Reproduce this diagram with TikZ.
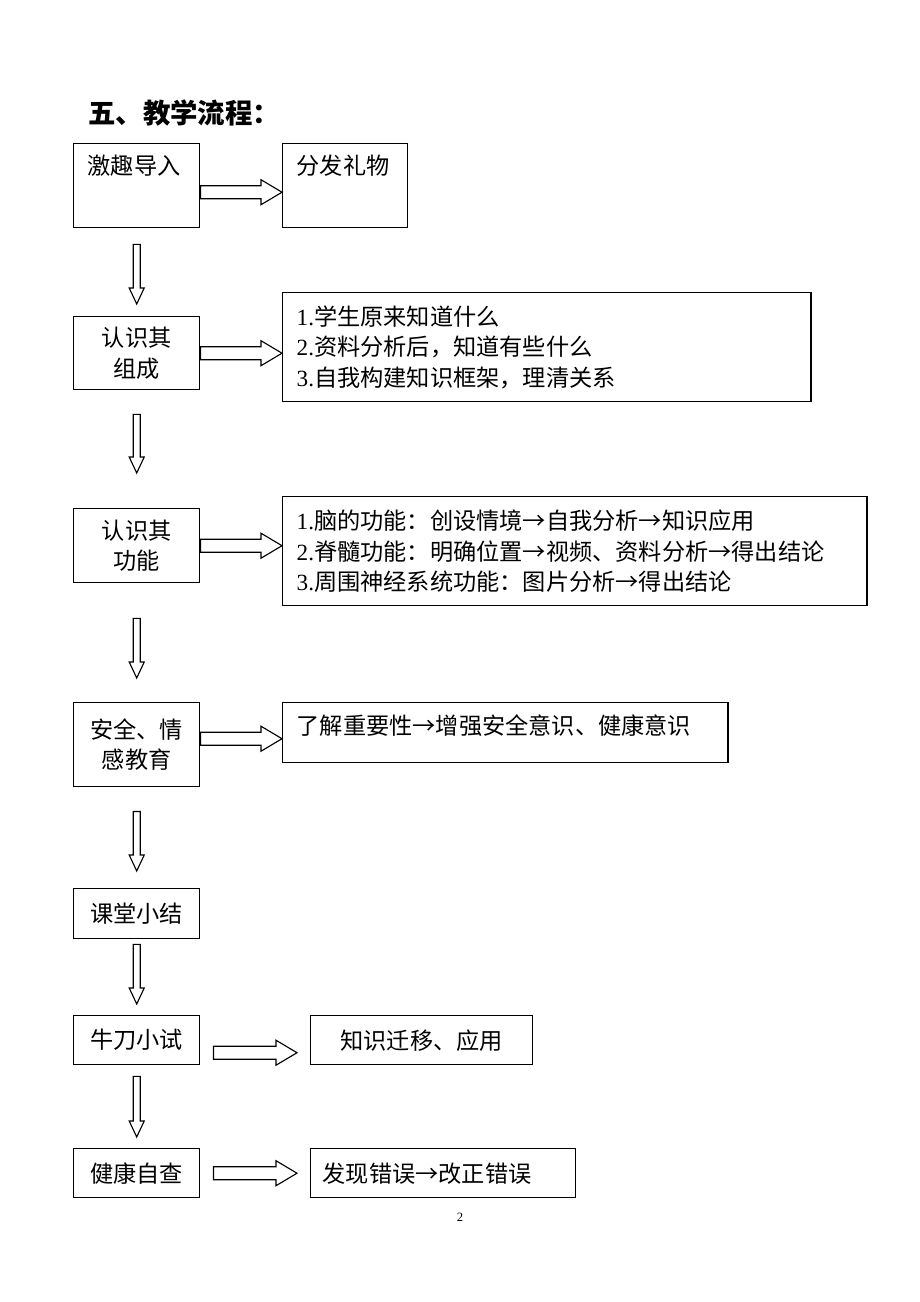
\documentclass[tikz,border=0pt]{standalone}
\usepackage{fontspec}
\setmainfont{Liberation Serif}
\newfontfamily\cjk{Noto Sans CJK SC}
\usetikzlibrary{calc}
\newcommand{\xh}[1]{{\rmfamily #1}}
\newcommand{\ra}{\makebox[1em]{→}}
% hollow block arrows, start and end given as coordinates
\newcommand{\harrow}[2]{%
  \path #1 coordinate (s) #2 coordinate (e);
  \draw[hollow] ($(s)+(0,-6.5)$) -- ($(e)+(-21,-6.5)$) -- ($(e)+(-21,-12.5)$) -- (e) -- ($(e)+(-21,12.5)$) -- ($(e)+(-21,6.5)$) -- ($(s)+(0,6.5)$) -- cycle;}
\newcommand{\varrow}[2]{%
  \path #1 coordinate (s) #2 coordinate (e);
  \draw[hollow] ($(s)+(-3.5,0)$) -- ($(e)+(-3.5,-16)$) -- ($(e)+(-7.5,-16)$) -- (e) -- ($(e)+(7.5,-16)$) -- ($(e)+(3.5,-16)$) -- ($(s)+(3.5,0)$) -- cycle;}
\tikzset{
  flowbox/.style={draw, line width=1pt, anchor=north west, inner sep=0pt, align=center, font={\cjk\fontsize{16.5pt}{21.7pt}\selectfont}},
  listbox/.style={flowbox, align=left, inner xsep=0.35cm},
  hollow/.style={draw, line width=0.8pt, fill=white, line join=miter},
}

\begin{document}
\begin{tikzpicture}[x=0.025cm, y=-0.025cm]
\fill[white] (0,0) rectangle (920,1302);
\useasboundingbox (0,0) rectangle (920,1302);
\node[anchor=west, inner sep=0pt, font={\cjk\bfseries\fontsize{19.5pt}{22pt}\selectfont}] (title) at (88,113) {五、教学流程：};

\node[listbox, text width=2.45cm, text height=0.7625cm, text depth=1.3375cm] (ji) at (73,143) {激趣导入};
\node[listbox, text width=2.425cm, text height=0.7625cm, text depth=1.3375cm] (fa) at (282,143) {分发礼物};
\node[flowbox, minimum width=3.15cm, minimum height=1.825cm] (ren) at (73,316) {认识其\\组成};
\node[listbox, text width=12.5cm, minimum height=2.725cm] (list1) at (282,292) {\xh{1.}学生原来知道什么\\\xh{2.}资料分析后，知道有些什么\\\xh{3.}自我构建知识框架，理清关系};
\node[flowbox, minimum width=3.15cm, minimum height=1.85cm] (gong) at (73,508) {认识其\\功能};
\node[listbox, text width=13.9cm, minimum height=2.725cm] (list2) at (282,496) {\xh{1.}脑的功能：创设情境\ra 自我分析\ra 知识应用\\\xh{2.}脊髓功能：明确位置\ra 视频、资料分析\ra 得出结论\\\xh{3.}周围神经系统功能：图片分析\ra 得出结论};
\node[flowbox, minimum width=3.15cm, minimum height=2.1cm] (an) at (73,702) {安全、情\\感教育};
\node[listbox, text width=10.425cm, text height=0.7875cm, text depth=0.7125cm] (liao) at (282,702) {了解重要性\ra 增强安全意识、健康意识};
\node[flowbox, minimum width=3.15cm, minimum height=1.25cm] (ke) at (73,888) {课堂小结};
\node[flowbox, minimum width=3.15cm, minimum height=1.225cm] (niu) at (73,1015) {牛刀小试};
\node[flowbox, minimum width=5.55cm, minimum height=1.225cm] (zhi) at (310,1015) {知识迁移、应用};
\node[flowbox, minimum width=3.15cm, minimum height=1.225cm] (jian) at (73,1148) {健康自查};
\node[listbox, inner xsep=0.3cm, text width=6.025cm, minimum height=1.225cm] (cuo) at (310,1148) {发现错误\ra 改正错误};

\harrow{($(ji.east)+(0,6.5)$)}{($(ji.east -| fa.west)+(0,6.5)$)}
\harrow{(ren.east)}{(ren.east -| list1.west)}
\harrow{(gong.east)}{(gong.east -| list2.west)}
\harrow{($(an.east)+(0,-6)$)}{($(an.east -| liao.west)+(0,-6)$)}
\harrow{($(niu.east)+(13,12.5)$)}{($(niu.east -| zhi.west)+(-13,12.5)$)}
\harrow{($(jian.east)+(13,0)$)}{($(jian.east -| cuo.west)+(-13,0)$)}

\varrow{($(ji.south)+(0,16)$)}{($(ren.north)+(0,-12)$)}
\varrow{($(ren.south)+(0,24)$)}{($(gong.north)+(0,-35)$)}
\varrow{($(gong.south)+(0,35)$)}{($(an.north)+(0,-24)$)}
\varrow{($(an.south)+(0,24)$)}{($(ke.north)+(0,-17)$)}
\varrow{($(ke.south)+(0,5)$)}{($(niu.north)+(0,-11)$)}
\varrow{($(niu.south)+(0,11)$)}{($(jian.north)+(0,-11)$)}

\node[font={\fontsize{9pt}{10pt}\selectfont}] (page) at (460,1217) {2};
\end{tikzpicture}
\end{document}
